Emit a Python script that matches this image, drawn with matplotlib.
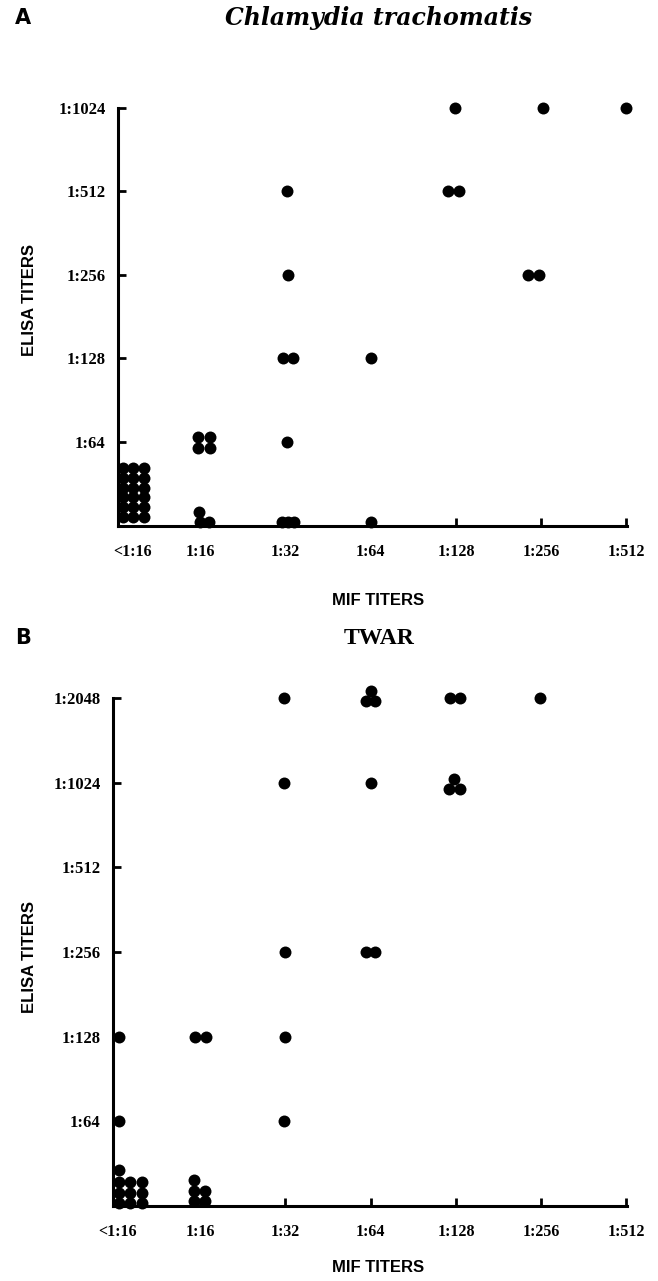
import matplotlib
matplotlib.use("Agg")
import matplotlib.pyplot as plt

# categorias de los ejes
mif_labels = ["<1:16", "1:16", "1:32", "1:64", "1:128", "1:256", "1:512"]
elisa_labels_a = ["1:64", "1:128", "1:256", "1:512", "1:1024"]
elisa_labels_b = ["1:64", "1:128", "1:256", "1:512", "1:1024", "1:2048"]

# Panel A (Chlamydia trachomatis): x = indice MIF, y = nivel ELISA (1:64 = 1)
a_x = [0.09, 0.21, 0.34, 0.09, 0.21, 0.34, 0.09, 0.21, 0.34,
       0.09, 0.21, 0.34, 0.09, 0.21, 0.34, 0.09, 0.21, 0.34,
       0.97, 1.11, 0.97, 1.11, 0.99, 1.00, 1.10,
       2.02, 2.03, 1.97, 2.09, 2.02, 1.96, 2.03, 2.10,
       3.00, 3.00,
       3.99, 3.91, 4.04,
       4.84, 4.97, 5.02,
       6.00]
a_y = [0.68, 0.68, 0.68, 0.56, 0.56, 0.56, 0.44, 0.44, 0.44,
       0.34, 0.34, 0.34, 0.22, 0.22, 0.22, 0.10, 0.10, 0.10,
       1.06, 1.06, 0.92, 0.92, 0.16, 0.04, 0.04,
       4.00, 3.00, 2.00, 2.00, 1.00, 0.04, 0.04, 0.04,
       2.00, 0.04,
       5.00, 4.00, 4.00,
       3.00, 3.00, 5.00,
       5.00]

# Panel B (TWAR)
b_x = [0.05, 0.05, 0.05, 0.05, 0.18, 0.32, 0.05, 0.18, 0.32, 0.05, 0.18, 0.32,
       0.94, 1.07, 0.93, 0.93, 1.06, 0.93, 1.06,
       1.98, 1.98, 1.99, 1.99, 1.98,
       3.00, 2.94, 3.05, 3.00, 2.94, 3.05,
       3.93, 4.05, 3.98, 3.92, 4.05,
       4.99]
b_y = [2.00, 1.00, 0.43, 0.28, 0.28, 0.28, 0.15, 0.15, 0.15, 0.04, 0.04, 0.04,
       2.00, 2.00, 0.31, 0.18, 0.18, 0.06, 0.06,
       6.00, 5.00, 3.00, 2.00, 1.00,
       6.08, 5.96, 5.96, 5.00, 3.00, 3.00,
       6.00, 6.00, 5.04, 4.92, 4.92,
       6.00]

W, H = 658, 1281
fig = plt.figure(figsize=(W / 100, H / 100), dpi=100)

serif = ["Liberation Serif", "DejaVu Serif"]
narrow = ["Liberation Sans Narrow", "Liberation Sans", "DejaVu Sans"]


def panel(box, xs, ys, ylabels, xlim, ylim, first_pos):
    # box en pixeles: izquierda, arriba, derecha, abajo
    l, t, r, b = box
    ax = fig.add_axes([l / W, 1 - b / H, (r - l) / W, (b - t) / H])
    ax.plot(xs, ys, "o", color="black", markersize=8.6, markeredgewidth=0, clip_on=False, zorder=3)
    ax.set_xlim(*xlim)
    ax.set_ylim(*ylim)
    for s in ["top", "right"]:
        ax.spines[s].set_visible(False)
    for s in ["left", "bottom"]:
        ax.spines[s].set_linewidth(2.2)
    ax.set_xticks([first_pos] + list(range(1, 7)))
    ax.set_xticklabels(mif_labels, fontfamily=serif, fontweight="bold", fontsize=11.5)
    ax.set_yticks(range(1, len(ylabels) + 1))
    ax.set_yticklabels(ylabels, fontfamily=serif, fontweight="bold", fontsize=12)
    ax.tick_params(axis="both", direction="in", length=6, width=2)
    ax.tick_params(axis="x", pad=13)
    ax.tick_params(axis="y", pad=9)
    ax.xaxis.get_major_ticks()[0].tick1line.set_visible(False)
    return ax


panel((118, 108, 627, 526), a_x, a_y, elisa_labels_a, (0.035, 6.006), (-0.012, 5.0), 0.21)
panel((113, 698, 627, 1206), b_x, b_y, elisa_labels_b, (-0.023, 6.006), (0.0, 6.0), 0.035)

# textos
fig.text(15 / W, 1 - 18 / H, "A", fontsize=15, fontweight="bold", ha="left", va="center")
fig.text(15 / W, 1 - 638 / H, "B", fontsize=15, fontweight="bold", ha="left", va="center")
fig.text(379 / W, 1 - 18 / H, "Chlamydia trachomatis", fontsize=17, fontweight="bold",
         fontstyle="italic", fontfamily="DejaVu Serif", ha="center", va="center")
fig.text(379 / W, 1 - 638 / H, "TWAR", fontsize=17, fontweight="bold",
         fontfamily=serif, ha="center", va="center")
for yc in [600, 1268]:
    fig.text(378 / W, 1 - yc / H, "MIF TITERS", fontsize=12, fontweight="bold",
             fontfamily=narrow, ha="center", va="center")
for yc in [300, 957]:
    fig.text(30 / W, 1 - yc / H, "ELISA TITERS", fontsize=12, fontweight="bold",
             fontfamily=narrow, ha="center", va="center", rotation=90)

fig.savefig("out.png", dpi=100)
